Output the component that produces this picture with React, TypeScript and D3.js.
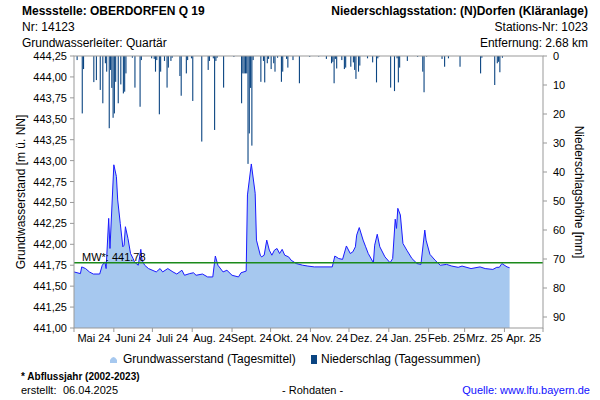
import React from 'react';
import * as d3 from 'd3';

const gwDates = [
  '2024-05-01','2024-05-06','2024-05-07','2024-05-10','2024-05-13','2024-05-16','2024-05-21','2024-05-23','2024-05-25','2024-05-26',
  '2024-05-28','2024-05-29','2024-06-01','2024-06-03','2024-06-04','2024-06-06','2024-06-08','2024-06-09','2024-06-10','2024-06-12',
  '2024-06-14','2024-06-16','2024-06-17','2024-06-20','2024-06-22','2024-06-23','2024-06-25','2024-06-28','2024-07-04','2024-07-07',
  '2024-07-09','2024-07-13','2024-07-17','2024-07-20','2024-07-24','2024-07-26','2024-07-30','2024-08-02','2024-08-04','2024-08-09',
  '2024-08-13','2024-08-17','2024-08-19','2024-08-21','2024-08-25','2024-08-28','2024-09-01','2024-09-06','2024-09-08','2024-09-12',
  '2024-09-13','2024-09-16','2024-09-19','2024-09-20','2024-09-23','2024-09-24','2024-09-26','2024-09-28','2024-09-30','2024-10-02',
  '2024-10-04','2024-10-06','2024-10-08','2024-10-10','2024-10-12','2024-10-15','2024-10-17','2024-10-21','2024-10-26','2024-10-30',
  '2024-11-04','2024-11-18','2024-11-20','2024-11-23','2024-11-26','2024-11-29','2024-12-02','2024-12-04','2024-12-06','2024-12-07',
  '2024-12-09','2024-12-12','2024-12-14','2024-12-16','2024-12-20','2024-12-21','2024-12-23','2024-12-25','2024-12-29','2025-01-02',
  '2025-01-04','2025-01-06','2025-01-07','2025-01-08','2025-01-10','2025-01-12','2025-01-15','2025-01-19','2025-01-23','2025-01-26',
  '2025-01-29','2025-01-30','2025-02-02','2025-02-06','2025-02-10','2025-02-15','2025-02-19','2025-02-24','2025-02-27','2025-03-06',
  '2025-03-13','2025-03-17','2025-03-23','2025-03-26','2025-03-28','2025-03-30','2025-04-03','2025-04-05'
];
const gwValues = [
  441.67,441.65,441.73,441.71,441.67,441.645,441.645,441.75,441.79,441.71,
  442.31,441.95,442.95,442.81,442.53,442.25,441.97,441.99,442.21,442.07,
  441.89,441.83,441.79,441.75,441.94,441.81,441.75,441.71,441.67,441.71,
  441.67,441.71,441.67,441.645,441.69,441.63,441.65,441.66,441.63,441.645,
  441.61,441.61,441.86,441.75,441.67,441.69,441.63,441.61,441.66,441.68,
  442.59,442.96,442.61,442.05,441.87,441.85,441.87,442.05,441.93,441.87,
  441.93,441.95,441.89,441.94,441.87,441.85,441.81,441.77,441.75,441.74,
  441.73,441.73,441.86,441.83,441.82,441.98,441.89,441.91,441.97,442.11,
  442.20,442.05,441.97,441.89,441.78,441.99,442.12,441.97,441.85,441.78,
  441.83,442.30,442.19,442.43,442.35,442.01,441.93,441.83,441.77,441.76,
  442.17,442.05,441.88,441.81,441.75,441.76,441.74,441.725,441.74,441.71,
  441.73,441.71,441.70,441.725,441.725,441.77,441.73,441.72
];

const rainDates = [
  '2024-05-03','2024-05-07','2024-05-08','2024-05-16','2024-05-18','2024-05-21','2024-05-23','2024-05-25','2024-05-26','2024-05-28',
  '2024-05-29','2024-05-30','2024-05-31','2024-06-01','2024-06-02','2024-06-04','2024-06-06','2024-06-08','2024-06-09','2024-06-10',
  '2024-06-15','2024-06-17','2024-06-21','2024-06-22','2024-06-30','2024-07-02','2024-07-03','2024-07-04','2024-07-06','2024-07-07',
  '2024-07-10','2024-07-12','2024-07-13','2024-07-15','2024-07-16','2024-07-22','2024-07-23','2024-07-27','2024-07-28','2024-07-31',
  '2024-08-01','2024-08-08','2024-08-13','2024-08-14','2024-08-17','2024-08-18','2024-08-19','2024-08-20','2024-08-25','2024-09-02',
  '2024-09-08','2024-09-09','2024-09-10','2024-09-11','2024-09-12','2024-09-13','2024-09-14','2024-09-15','2024-09-16','2024-09-17',
  '2024-09-23','2024-09-25','2024-09-26','2024-09-28','2024-09-29','2024-10-01','2024-10-03','2024-10-04','2024-10-06','2024-10-09',
  '2024-10-10','2024-10-13','2024-10-14','2024-10-18','2024-10-23','2024-10-31','2024-11-07','2024-11-13','2024-11-17','2024-11-18',
  '2024-11-19','2024-11-20','2024-11-21','2024-11-25','2024-11-27','2024-11-28','2024-12-02','2024-12-04','2024-12-05','2024-12-06',
  '2024-12-08','2024-12-09','2024-12-15','2024-12-19','2024-12-22','2024-12-23','2024-12-24','2025-01-02','2025-01-05','2025-01-07',
  '2025-01-08','2025-01-09','2025-01-15','2025-01-23','2025-01-27','2025-01-28','2025-01-30','2025-02-11','2025-02-13','2025-02-16',
  '2025-02-25','2025-03-13','2025-03-14','2025-03-24','2025-03-26','2025-03-27','2025-03-28','2025-03-30'
];
const rainValues = [
  1.4,19.8,4.5,9.0,8.3,11.7,16.3,2.5,5.4,24.9,
  4.8,11.0,21.3,19.8,8.9,16.3,9.8,12.9,12.3,6.0,
  0.6,10.9,17.5,1.4,0.8,1.0,5.4,1.4,20.1,5.4,
  1.7,10.9,4.0,1.7,0.6,6.9,13.7,6.0,1.4,0.8,
  15.5,29.5,4.8,1.7,0.8,25.5,1.7,0.6,10.9,0.3,
  16.3,6.0,6.0,6.0,6.0,37.2,26.7,11.0,30.9,1.4,
  8.9,1.7,9.1,2.5,1.0,4.5,2.5,5.4,0.6,8.9,
  5.4,1.0,4.0,1.4,9.4,0.3,0.2,1.0,2.5,2.0,
  9.4,1.0,4.3,1.4,4.5,4.0,3.7,2.2,4.8,7.9,
  5.4,3.3,0.8,2.2,9.1,0.8,0.2,10.9,12.1,0.8,
  9.1,4.0,1.7,0.3,5.4,12.5,0.2,1.0,3.7,0.8,
  3.7,6.0,0.6,10.0,2.5,2.0,5.6,0.6
];

const levelTicks = [441, 441.25, 441.5, 441.75, 442, 442.25, 442.5, 442.75, 443, 443.25, 443.5, 443.75, 444, 444.25];
const rainTicks = [0, 10, 20, 30, 40, 50, 60, 70, 80, 90];
const monthLabels = ['Mai 24', 'Juni 24', 'Juli 24', 'Aug. 24', 'Sept. 24', 'Okt. 24', 'Nov. 24', 'Dez. 24', 'Jan. 25', 'Feb. 25', 'Mrz. 25', 'Apr. 25'];
const meanLevel = 441.78;

const FONT = '"Liberation Sans", Arial, sans-serif';

export default function App() {
  const parse = d3.utcParse('%Y-%m-%d');
  const start = parse('2024-05-01') as Date;
  const end = parse('2025-05-01') as Date;
  const L = 74, R = 543, T = 56, B = 328;

  const x = d3.scaleUtc().domain([start, end]).range([L, R]);
  const yL = d3.scaleLinear().domain([441, 444.25]).range([B, T]);
  const yR = d3.scaleLinear().domain([0, 93.79]).range([T, B]);

  const gw = gwDates.map((d, i) => ({ date: parse(d) as Date, v: gwValues[i] }));
  const rain = rainDates.map((d, i) => ({ date: parse(d) as Date, v: rainValues[i] }));

  const area = d3.area<{ date: Date; v: number }>()
    .x(d => x(d.date)).y0(yL(441)).y1(d => yL(d.v));
  const line = d3.line<{ date: Date; v: number }>()
    .x(d => x(d.date)).y(d => yL(d.v));

  const months = d3.utcMonth.range(start, end);
  const monthEdges = d3.utcMonth.range(start, d3.utcDay.offset(end, 1));
  const fmt = (v: number) => d3.format('.2f')(v).replace('.', ',');

  return (
    <svg width={600} height={400} style={{ position: 'absolute', left: 0, top: 0, display: 'block', background: '#fff' }} fontFamily={FONT}>
      {/* header */}
      <text x={22} y={15} fontSize={12} fontWeight="bold" fill="#000">Messstelle: OBERDORFEN Q 19</text>
      <text x={22} y={31} fontSize={12} fill="#000">Nr: 14123</text>
      <text x={22} y={47} fontSize={12} fill="#000">Grundwasserleiter: Quartär</text>
      <text x={588} y={15} fontSize={12} fontWeight="bold" fill="#000" textAnchor="end">Niederschlagsstation: (N)Dorfen (Kläranlage)</text>
      <text x={588} y={31} fontSize={12} fill="#000" textAnchor="end">Stations-Nr: 1023</text>
      <text x={588} y={47} fontSize={12} fill="#000" textAnchor="end">Entfernung: 2.68 km</text>

      {/* groundwater area */}
      <path d={area(gw) || ''} fill="#a6c8ef" />
      <path d={line(gw) || ''} fill="none" stroke="#1a1aff" strokeWidth={1} />

      {/* rain bars */}
      {rain.map((d, i) => {
        const x0 = x(d.date);
        return <rect key={i} x={x0} y={T} width={1.1} height={yR(d.v) - T} fill="#0b4582" />;
      })}

      {/* mean line */}
      <line x1={L} x2={R} y1={yL(meanLevel)} y2={yL(meanLevel)} stroke="#1b8a1b" strokeWidth={1.5} />
      <text x={82} y={yL(meanLevel) - 2} fontSize={11} fill="#000">MW*: 441.78</text>

      {/* frame */}
      <rect x={L} y={T} width={R - L} height={B - T} fill="none" stroke="#999" strokeWidth={1} />

      {/* left axis */}
      {levelTicks.map((v, i) => (
        <g key={i}>
          <line x1={L - 4} x2={L} y1={yL(v)} y2={yL(v)} stroke="#999" />
          <text x={67} y={yL(v) + 4} fontSize={11} textAnchor="end" fill="#000">{fmt(v)}</text>
        </g>
      ))}
      <text transform={`translate(25,192) rotate(-90)`} fontSize={12} textAnchor="middle" fill="#000">Grundwasserstand [m ü. NN]</text>

      {/* right axis */}
      {rainTicks.map((v, i) => (
        <g key={i}>
          <line x1={R} x2={R + 4} y1={yR(v)} y2={yR(v)} stroke="#999" />
          <text x={553} y={yR(v) + 4} fontSize={11} fill="#000">{v}</text>
        </g>
      ))}
      <text transform={`translate(575,192) rotate(90)`} fontSize={12} textAnchor="middle" fill="#000">Niederschlagshöhe [mm]</text>

      {/* bottom axis */}
      {monthEdges.map((m, i) => (
        <line key={i} x1={x(m)} x2={x(m)} y1={B} y2={B + 4} stroke="#999" />
      ))}
      {months.map((m, i) => {
        const mid = (x(m) + x(d3.utcMonth.offset(m, 1))) / 2;
        return <text key={i} x={mid} y={342} fontSize={11} textAnchor="middle" fill="#000">{monthLabels[i]}</text>;
      })}

      {/* legend */}
      <path d="M110,363 L110,360 Q113.5,354 117,360 L117,363 Z" fill="#a6c8ef" />
      <text x={123} y={363} fontSize={12} fill="#000">Grundwasserstand (Tagesmittel)</text>
      <rect x={311} y={355} width={6} height={9} fill="#0b4582" />
      <text x={321} y={363} fontSize={12} fill="#000">Niederschlag (Tagessummen)</text>

      {/* footer */}
      <text x={21} y={380} fontSize={10} fontWeight="bold" fill="#000">* Abflussjahr (2002-2023)</text>
      <text x={21} y={394} fontSize={11} fill="#000">erstellt:</text>
      <text x={63} y={394} fontSize={11} fill="#000">06.04.2025</text>
      <text x={282} y={394} fontSize={11} fill="#000">- Rohdaten -</text>
      <text x={590} y={394} fontSize={11} fill="#1010ff" textAnchor="end">Quelle: www.lfu.bayern.de</text>
    </svg>
  );
}
